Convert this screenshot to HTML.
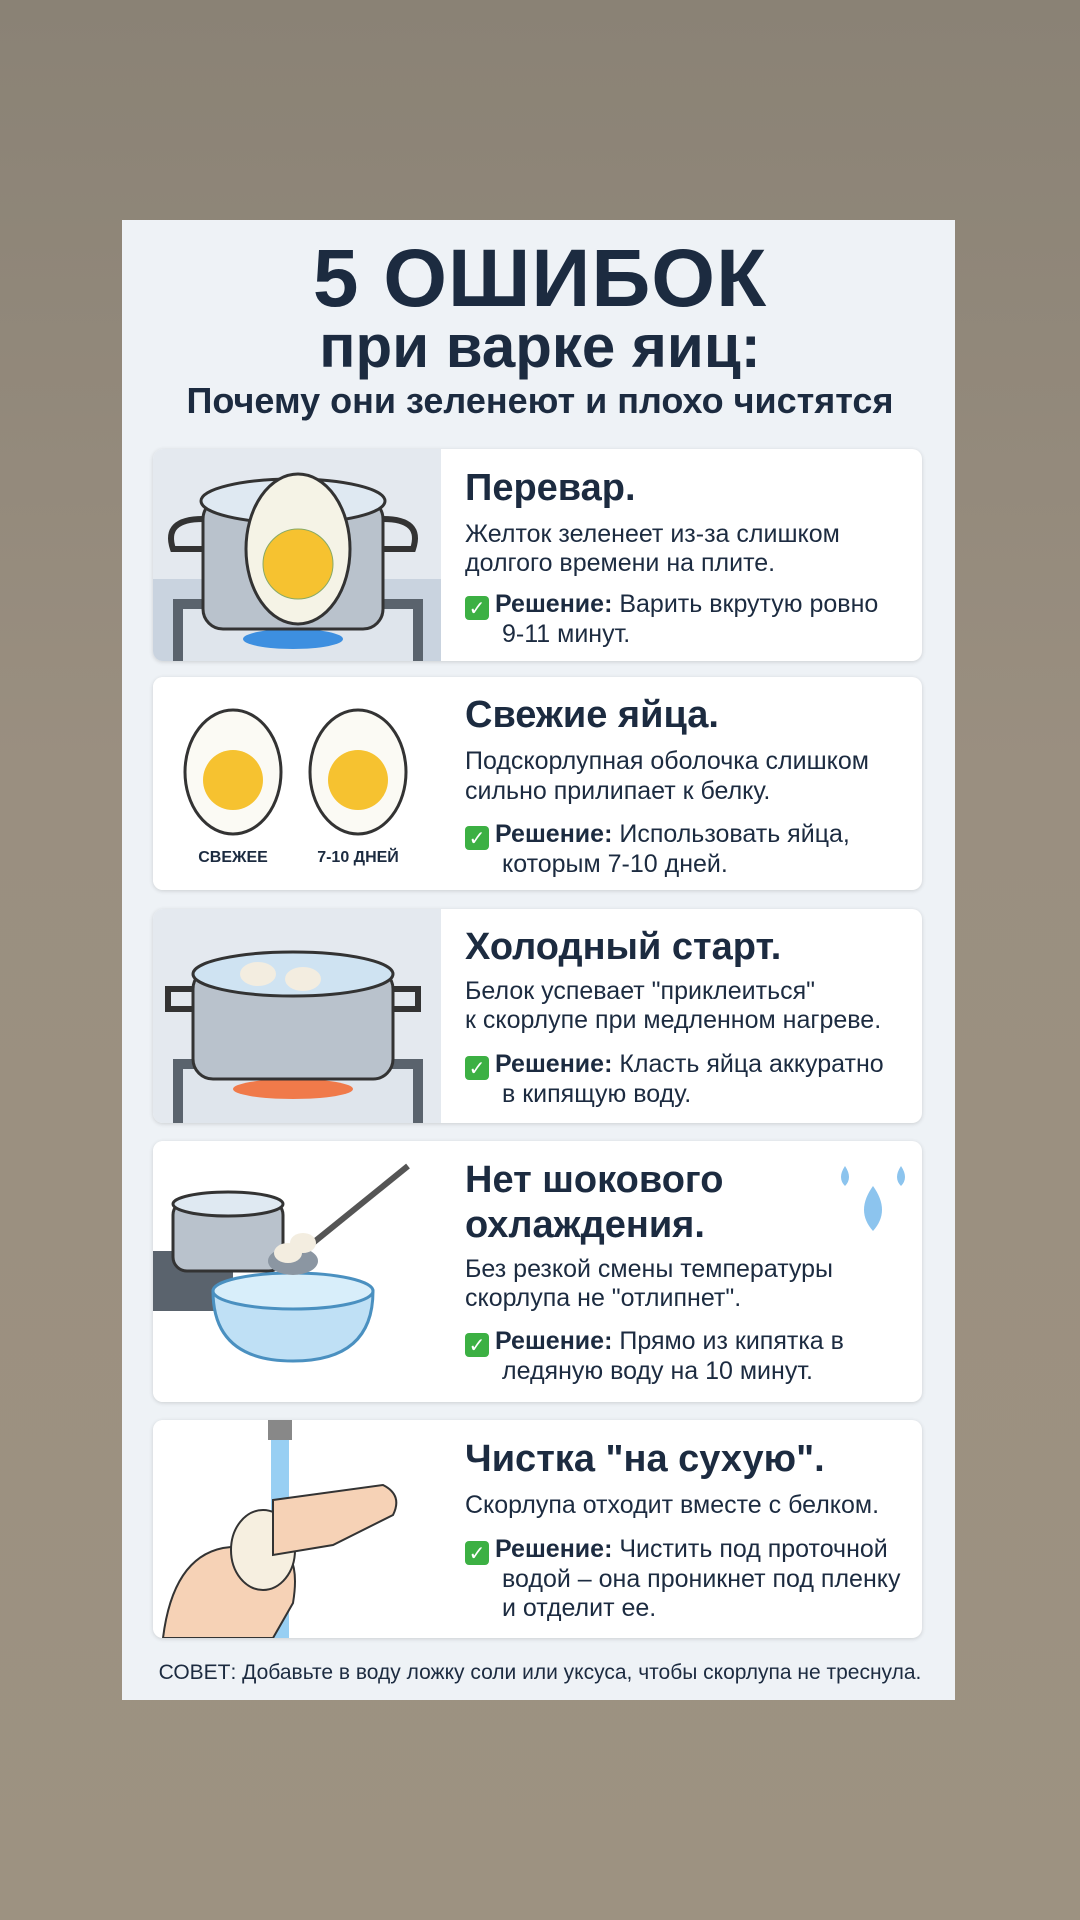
<!DOCTYPE html>
<html><head><meta charset="utf-8"><style>
*{margin:0;padding:0;box-sizing:border-box}
body{width:1080px;height:1920px;overflow:hidden;background:linear-gradient(#8a8275,#9a8f80 40%,#9d9281);font-family:"Liberation Sans",sans-serif;color:#1c2b40;position:relative}
.card{position:absolute;left:122px;top:220px;width:833px;height:1480px;background:#eef2f6}
.t{position:absolute;white-space:nowrap}
.row{position:absolute;left:153px;width:769px;background:#fff;border-radius:10px;box-shadow:0 1px 4px rgba(0,0,0,.15);overflow:hidden}
.img{position:absolute;left:0;top:0;width:288px;height:100%;background:#e4e9ef}
.h{font-weight:bold;font-size:38px}
.b{font-size:25px}
.ck{display:inline-block;width:24px;height:24px;background:#3cb043;border-radius:4px;color:#fff;font-size:20px;text-align:center;line-height:24px;margin-right:6px;vertical-align:-3px;font-family:"DejaVu Sans",sans-serif}
</style></head><body>
<div class="card"></div>
<div class="t" style="left:0;width:1080px;text-align:center;top:232px;font-size:82px;font-weight:bold;letter-spacing:1px">5 ОШИБОК</div>
<div class="t" style="left:0;width:1080px;text-align:center;top:312px;font-size:60px;font-weight:bold">при варке яиц:</div>
<div class="t" style="left:0;width:1080px;text-align:center;top:380px;font-size:36px;font-weight:bold">Почему они зеленеют и плохо чистятся</div>

<!-- row1 -->
<div class="row" style="top:449px;height:212px"><div class="img">
<svg width="288" height="212"><rect x="0" y="130" width="288" height="82" fill="#c9d3df"/><rect x="20" y="150" width="250" height="62" fill="#5a636d"/><rect x="30" y="160" width="230" height="52" fill="#dfe5ec"/><ellipse cx="140" cy="190" rx="50" ry="10" fill="#3d8fe0"/><rect x="50" y="50" width="180" height="130" rx="20" fill="#b9c2cc" stroke="#333" stroke-width="3"/><ellipse cx="140" cy="52" rx="92" ry="22" fill="#dfe9f2" stroke="#333" stroke-width="3"/><path d="M50 70 q-40 0 -30 30 l30 0" fill="none" stroke="#333" stroke-width="6"/><path d="M230 70 q40 0 30 30 l-30 0" fill="none" stroke="#333" stroke-width="6"/><ellipse cx="145" cy="100" rx="52" ry="75" fill="#f5f3e6" stroke="#333" stroke-width="3"/><circle cx="145" cy="115" r="35" fill="#f6c230" stroke="#8a6"/></svg></div></div>
<div class="t h" style="left:465px;top:467px">Перевар.</div>
<div class="t b" style="left:465px;top:520px;line-height:29px">Желток зеленеет из-за слишком<br>долгого времени на плите.</div>
<div class="t b" style="left:465px;top:590px;line-height:29px"><span class="ck">✓</span><b>Решение:</b> Варить вкрутую ровно<br><span style="padding-left:37px">9-11 минут.</span></div>

<!-- row2 -->
<div class="row" style="top:677px;height:213px"><div class="img" style="background:#fff">
<svg width="288" height="213"><ellipse cx="80" cy="95" rx="48" ry="62" fill="#fbfaf4" stroke="#333" stroke-width="3"/><circle cx="80" cy="103" r="30" fill="#f6c230"/><ellipse cx="205" cy="95" rx="48" ry="62" fill="#fbfaf4" stroke="#333" stroke-width="3"/><circle cx="205" cy="103" r="30" fill="#f6c230"/><text x="80" y="185" font-size="16" font-weight="bold" text-anchor="middle" fill="#1c2b40" font-family="Liberation Sans,sans-serif">СВЕЖЕЕ</text><text x="205" y="185" font-size="16" font-weight="bold" text-anchor="middle" fill="#1c2b40" font-family="Liberation Sans,sans-serif">7-10 ДНЕЙ</text></svg></div></div>
<div class="t h" style="left:465px;top:694px">Свежие яйца.</div>
<div class="t b" style="left:465px;top:746px;line-height:30px">Подскорлупная оболочка слишком<br>сильно прилипает к белку.</div>
<div class="t b" style="left:465px;top:820px;line-height:29px"><span class="ck">✓</span><b>Решение:</b> Использовать яйца,<br><span style="padding-left:37px">которым 7-10 дней.</span></div>

<!-- row3 -->
<div class="row" style="top:909px;height:214px"><div class="img">
<svg width="288" height="214"><rect x="20" y="150" width="250" height="64" fill="#5a636d"/><rect x="30" y="160" width="230" height="54" fill="#dfe5ec"/><ellipse cx="140" cy="180" rx="60" ry="10" fill="#f07a4a"/><rect x="40" y="60" width="200" height="110" rx="20" fill="#b9c2cc" stroke="#333" stroke-width="3"/><ellipse cx="140" cy="65" rx="100" ry="22" fill="#cfe3f2" stroke="#333" stroke-width="3"/><ellipse cx="105" cy="65" rx="18" ry="12" fill="#f3ede0"/><ellipse cx="150" cy="70" rx="18" ry="12" fill="#f3ede0"/><path d="M40 80 h-25 v20 h25 M240 80 h25 v20 h-25" fill="none" stroke="#333" stroke-width="6"/></svg></div></div>
<div class="t h" style="left:465px;top:926px">Холодный старт.</div>
<div class="t b" style="left:465px;top:977px;line-height:29px">Белок успевает "приклеиться"<br>к скорлупе при медленном нагреве.</div>
<div class="t b" style="left:465px;top:1050px;line-height:29px"><span class="ck">✓</span><b>Решение:</b> Класть яйца аккуратно<br><span style="padding-left:37px">в кипящую воду.</span></div>

<!-- row4 -->
<div class="row" style="top:1141px;height:261px"><div class="img" style="background:#fff">
<svg width="288" height="261"><rect x="0" y="110" width="80" height="60" fill="#5a636d"/><rect x="20" y="60" width="110" height="70" rx="14" fill="#b9c2cc" stroke="#333" stroke-width="3"/><ellipse cx="75" cy="63" rx="55" ry="12" fill="#dfe9f2" stroke="#333" stroke-width="3"/><path d="M60 150 h160 q0 70 -80 70 q-80 0 -80 -70z" fill="#bfe0f5" stroke="#4a90c0" stroke-width="3"/><ellipse cx="140" cy="150" rx="80" ry="18" fill="#d8eefa" stroke="#4a90c0" stroke-width="3"/><line x1="150" y1="110" x2="255" y2="25" stroke="#555" stroke-width="6"/><ellipse cx="140" cy="120" rx="25" ry="14" fill="#8b96a2"/><ellipse cx="135" cy="112" rx="14" ry="10" fill="#f3ede0"/><ellipse cx="150" cy="102" rx="13" ry="10" fill="#f3ede0"/></svg></div>
<svg style="position:absolute;left:680px;top:15px" width="80" height="80"><path d="M40 30 q-18 25 0 45 q18 -20 0 -45z" fill="#8cc4ee"/><path d="M12 10 q-8 12 0 20 q8 -8 0 -20z M68 10 q-8 12 0 20 q8 -8 0 -20z" fill="#8cc4ee"/></svg></div>
<div class="t h" style="left:465px;top:1158px;line-height:45px">Нет шокового<br>охлаждения.</div>
<div class="t b" style="left:465px;top:1255px;line-height:29px">Без резкой смены температуры<br>скорлупа не "отлипнет".</div>
<div class="t b" style="left:465px;top:1327px;line-height:29px"><span class="ck">✓</span><b>Решение:</b> Прямо из кипятка в<br><span style="padding-left:37px">ледяную воду на 10 минут.</span></div>

<!-- row5 -->
<div class="row" style="top:1420px;height:218px"><div class="img" style="background:#fff">
<svg width="288" height="218"><rect x="115" y="0" width="24" height="20" fill="#888"/><rect x="118" y="20" width="18" height="198" fill="#7ec3f0" opacity=".8"/><path d="M10 218 q10 -80 60 -90 l40 -5 q40 0 30 60 l-20 35z" fill="#f6d2b6" stroke="#333" stroke-width="2"/><ellipse cx="110" cy="130" rx="32" ry="40" fill="#f6efe0" stroke="#333" stroke-width="2"/><path d="M120 80 l110 -15 q20 10 10 30 l-60 30 l-60 10z" fill="#f6d2b6" stroke="#333" stroke-width="2"/></svg></div></div>
<div class="t h" style="left:465px;top:1438px">Чистка "на сухую".</div>
<div class="t b" style="left:465px;top:1491px">Скорлупа отходит вместе с белком.</div>
<div class="t b" style="left:465px;top:1535px;line-height:29px"><span class="ck">✓</span><b>Решение:</b> Чистить под проточной<br><span style="padding-left:37px">водой – она проникнет под пленку</span><br><span style="padding-left:37px">и отделит ее.</span></div>

<div class="t" style="left:0;width:1080px;text-align:center;top:1661px;font-size:21px">СОВЕТ: Добавьте в воду ложку соли или уксуса, чтобы скорлупа не треснула.</div>
</body></html>
